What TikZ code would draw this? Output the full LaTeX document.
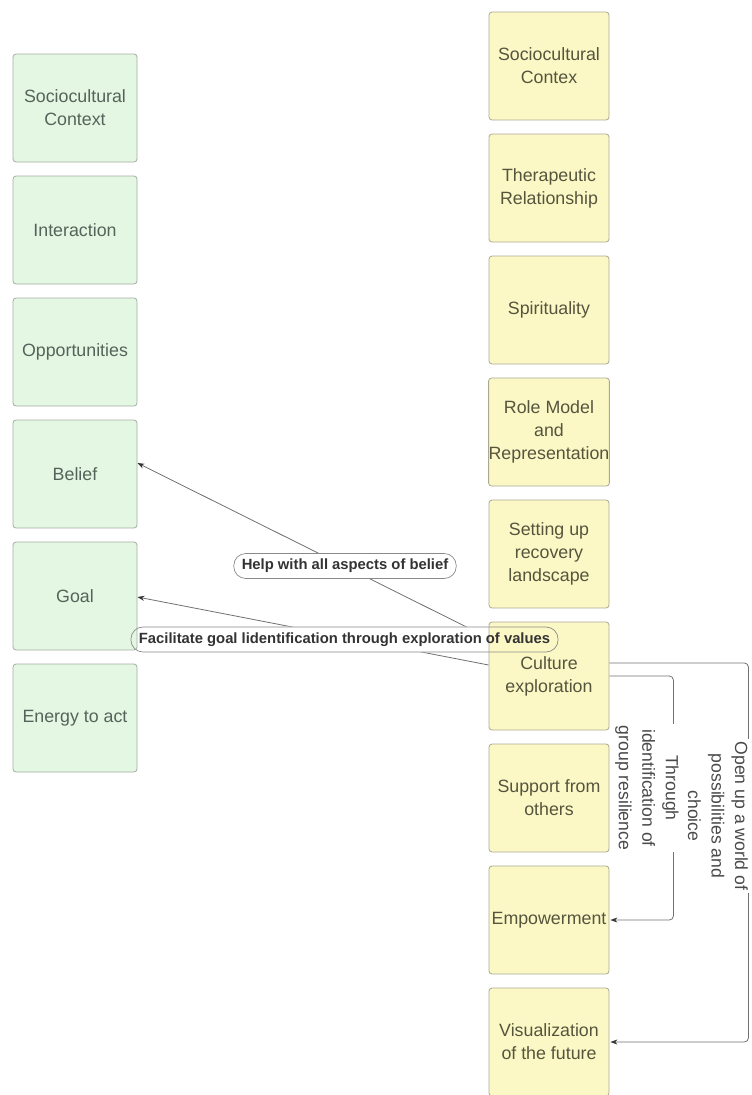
\documentclass[tikz,border=0pt]{standalone}
\usepackage{fontspec}
\setmainfont{Liberation Sans}
\usetikzlibrary{arrows.meta}

\definecolor{leftfill}{HTML}{E3F7E3}
\definecolor{leftline}{HTML}{A4AEA4}
\definecolor{lefttext}{HTML}{55645A}
\definecolor{rightfill}{HTML}{FCF8C6}
\definecolor{rightline}{HTML}{AAA893}
\definecolor{righttext}{HTML}{55553E}
\definecolor{linegray}{HTML}{707070}
\definecolor{tipgray}{HTML}{333333}
\definecolor{pilltext}{HTML}{333333}
\definecolor{pillline}{HTML}{8A8A8A}
\definecolor{vtext}{HTML}{4A4A4A}

\pgfdeclarelayer{lines}
\pgfdeclarelayer{mask}
\pgfdeclarelayer{labels}
\pgfsetlayers{lines,mask,main,labels}

\begin{document}
\begin{tikzpicture}[x=1pt,y=-1pt,
  box/.style={draw, rounded corners=3pt, inner sep=0pt, align=center,
    font=\fontsize{17.8}{23}\selectfont, line width=0.8pt},
  leftbox/.style={box, fill=leftfill, draw=leftline, text=lefttext,
    minimum width=124pt, minimum height=108pt},
  rightbox/.style={box, fill=rightfill, draw=rightline, text=righttext,
    minimum width=120pt, minimum height=108pt},
  conn/.style={draw=linegray, line width=0.8pt,
    -{Stealth[length=7pt,width=5pt,color=tipgray]}},
  pill/.style={draw=pillline, line width=0.7pt, rounded corners=12pt,
    font=\bfseries\fontsize{14.8}{17}\selectfont, text=pilltext,
    inner xsep=8pt, inner ysep=0pt, minimum height=25pt},
  vlabel/.style={rotate=-90, align=center, inner sep=2pt,
    font=\fontsize{17.6}{23.5}\selectfont, text=vtext}
]
\useasboundingbox (0,0) rectangle (752,1095);

% left column
\node[leftbox] (lsoc)    at (75,108) {Sociocultural\\Context};
\node[leftbox] (linter)  at (75,230) {Interaction};
\node[leftbox] (lopp)    at (75,352) {Opportunities};
\node[leftbox] (lbelief) at (75,474) {Belief};
\node[leftbox] (lgoal)   at (75,596) {Goal};
\node[leftbox] (lenergy) at (75,718) {Energy to act};

% right column
\node[rightbox] (rsoc)     at (549,66)   {Sociocultural\\Contex};
\node[rightbox] (rther)    at (549,188)  {Therapeutic\\Relationship};
\node[rightbox] (rspirit)  at (549,310)  {Spirituality};
\node[rightbox] (rrole)    at (549,432)  {Role Model\\and\\Representation};
\node[rightbox] (rsetting) at (549,554)  {Setting up\\recovery\\landscape};
\node[rightbox] (rculture) at (549,676)  {Culture\\exploration};
\node[rightbox] (rsupport) at (549,798)  {Support from\\others};
\node[rightbox] (remp)     at (549,920)  {Empowerment};
\node[rightbox] (rvis)     at (549,1042) {Visualization\\of the future};

% connectors
\begin{pgfonlayer}{lines}
\draw[conn] ([yshift=38pt]rculture.west) -- ([yshift=11pt]lbelief.east);
\draw[conn] ([yshift=11pt]rculture.west) -- ([yshift=-1pt]lgoal.east);
\draw[conn, rounded corners=4pt] (rculture.east) -- ++(64,0) |- ([xshift=1pt]remp.east);
\draw[conn, rounded corners=4pt] ([yshift=13pt]rculture.east) -- ++(139,0) |- ([xshift=1pt]rvis.east);
\end{pgfonlayer}

% connector labels; each one breaks the line it sits on
\begin{pgfonlayer}{labels}
\node[pill] (lblbelief) at (345,566) {Help with all aspects of belief};
\node[pill] (lblgoal) at (344.5,639.5) {Facilitate goal lidentification through exploration of values};
\node[vlabel] (lblgroup) at (647,788) {Through\\identification of\\group resilience};
\node[vlabel] (lblworld) at (718,816) {Open up a world of\\possibilities and\\choice};
\end{pgfonlayer}
\begin{pgfonlayer}{mask}
\fill[white, rounded corners=12pt] (lblbelief.south west) rectangle (lblbelief.north east);
\fill[white, rounded corners=12pt] (lblgoal.south west) rectangle (lblgoal.north east);
\fill[white] (lblgroup.south west) rectangle (lblgroup.north east);
\fill[white] (lblworld.south west) rectangle (lblworld.north east);
\end{pgfonlayer}
\end{tikzpicture}
\end{document}
